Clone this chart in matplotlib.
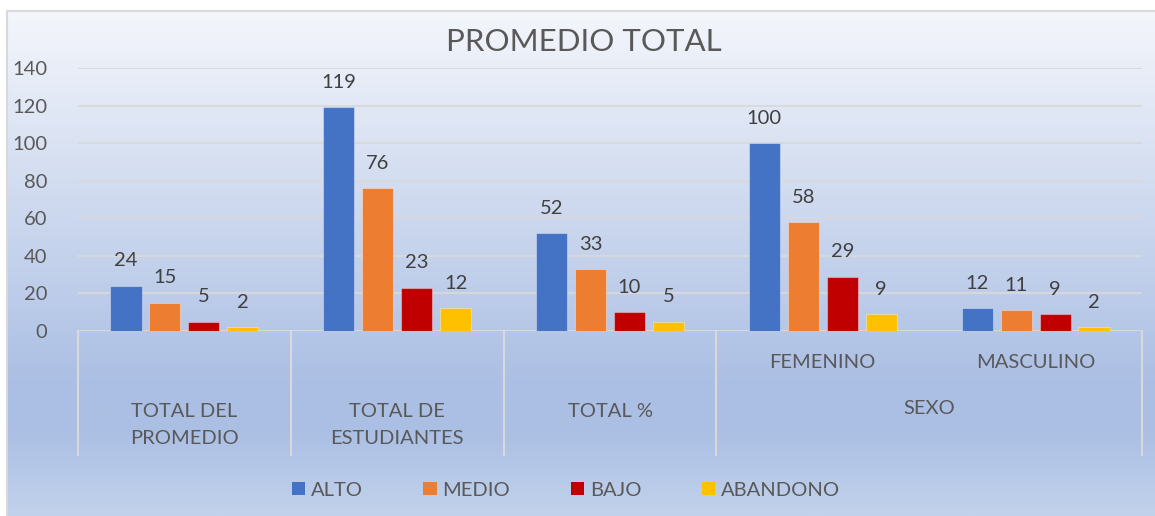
import numpy as np
import matplotlib.pyplot as plt
from matplotlib import transforms
from matplotlib.colors import LinearSegmentedColormap

plt.rcParams['font.family'] = ['Lato', 'DejaVu Sans']

# data
categories = ["TOTAL DEL\nPROMEDIO", "TOTAL DE\nESTUDIANTES", "TOTAL %", "FEMENINO", "MASCULINO"]
outer_label = "SEXO"
series_names = ["ALTO", "MEDIO", "BAJO", "ABANDONO"]
alto = [24, 119, 52, 100, 12]
medio = [15, 76, 33, 58, 11]
bajo = [5, 23, 10, 29, 9]
abandono = [2, 12, 5, 9, 2]
colors = ["#4472C4", "#ED7D31", "#C00000", "#FFC000"]

W, H = 1155, 516
fig = plt.figure(figsize=(W / 100, H / 100), dpi=100)
fig.patch.set_facecolor("white")

# gradient background of the chart area (white at top, light blue lower down)
bg = fig.add_axes([7 / W, 0, (W - 7) / W, 505 / H])
cmap = LinearSegmentedColormap.from_list(
    "bg", [(0, "#F4F6FB"), (0.74, "#ABBFE4"), (0.83, "#ABBFE4"), (1.0, "#C2D2EC")])
grad = np.linspace(0, 1, 256).reshape(-1, 1)
bg.imshow(grad, cmap=cmap, aspect="auto", extent=[0, 1, 0, 1], vmin=0, vmax=1,
          origin="upper")
bg.set_xlim(0, 1)
bg.set_ylim(0, 1)
bg.axis("off")
bg.plot([0, 0, 1], [0, 1, 1], color="#D9D9D9", lw=1.5, transform=bg.transAxes,
        clip_on=False)

# plot area
ax = fig.add_axes([78 / W, (H - 331) / H, (1142 - 78) / W, (331 - 68) / H])
ax.set_facecolor("none")
ax.set_xlim(0, len(categories))
ax.set_ylim(0, 140)
ax.set_yticks(np.arange(0, 141, 20))
ax.yaxis.grid(True, color="#D9D9D9", lw=1.3)
ax.set_axisbelow(True)
for s in ax.spines.values():
    s.set_visible(False)
ax.tick_params(axis="y", length=0, pad=22, labelsize=14.5, labelcolor="#595959")
ax.set_xticks([])

x = np.arange(len(categories)) + 0.5
width = 0.146
step = 0.183
all_series = [alto, medio, bajo, abandono]
for i, (name, vals) in enumerate(zip(series_names, all_series)):
    pos = x + (i - 1.5) * step
    bars = ax.bar(pos, vals, width, color=colors[i], label=name,
                  edgecolor=(1, 1, 1, 0.35), lw=0.8, zorder=3)
    for b, v in zip(bars, vals):
        ax.annotate(str(v), (b.get_x() + b.get_width() / 2, v), xytext=(0, 18),
                    textcoords="offset points", ha="center", va="center",
                    fontsize=14.5, color="#404040")

# category axis
ax.axhline(0, color="#D9D9D9", lw=1.3, zorder=2)
trans = transforms.blended_transform_factory(ax.transData, fig.transFigure)
for sx in [0, 1, 2, 3, 5]:
    ax.plot([sx, sx], [1 - 331 / H, 1 - 455 / H], color="#D9D9D9", lw=1.5,
            transform=trans, clip_on=False)

for i in range(3):
    ax.text(x[i], 1 - 403 / H, categories[i], transform=trans, ha="center", va="top",
            fontsize=14.5, color="#595959", linespacing=1.7)
for i in range(3, 5):
    ax.text(x[i], 1 - 362 / H, categories[i], transform=trans, ha="center", va="center",
            fontsize=14.5, color="#595959")
ax.text(4.0, 1 - 409 / H, outer_label, transform=trans, ha="center", va="center",
        fontsize=14.5, color="#595959")

fig.text(584 / W, 1 - 42 / H, "PROMEDIO TOTAL", ha="center", va="center",
         fontsize=22.5, color="#595959")

leg = fig.legend(loc="center", bbox_to_anchor=(566 / W, 1 - 490 / H), ncol=4,
                 frameon=False, fontsize=14.5, labelcolor="#595959",
                 handlelength=0.65, handleheight=0.65, handletextpad=0.3,
                 columnspacing=3.0)
for h in leg.legend_handles:
    h.set_edgecolor("none")

fig.savefig("out.png", dpi=100)
